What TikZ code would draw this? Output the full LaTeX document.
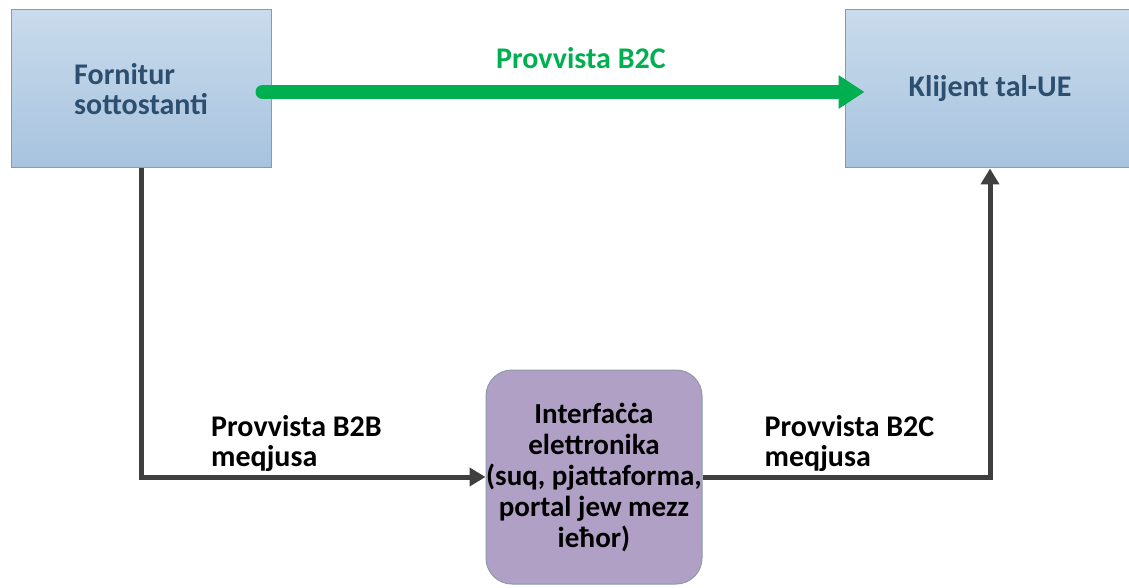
\documentclass[tikz,border=0pt]{standalone}
\usepackage{fontspec}
\setmainfont{Carlito}
\usetikzlibrary{arrows.meta,positioning}

\definecolor{boxtop}{HTML}{C9DBEC}
\definecolor{boxbot}{HTML}{A7C3DE}
\definecolor{boxline}{HTML}{8A9AAA}
\definecolor{boxtext}{HTML}{2C4F70}
\definecolor{supgreen}{HTML}{00B050}
\definecolor{midfill}{HTML}{B1A0C6}
\definecolor{linkgray}{HTML}{3F3F3F}

\tikzset{
    party/.style={draw=boxline, line width=1pt, top color=boxtop, bottom color=boxbot,
        minimum height=158pt, inner sep=0pt, text=boxtext, align=left,
        font=\fontsize{30}{30}\selectfont\bfseries},
    platform/.style={draw=boxline, line width=1pt, fill=midfill, rounded corners=26pt,
        minimum width=216pt, minimum height=214pt, inner sep=0pt, align=center,
        font=\fontsize{29}{31}\selectfont\bfseries},
    lbl/.style={align=left, inner sep=0pt, font=\fontsize{30}{30}\selectfont\bfseries},
    link/.style={draw=linkgray, line width=5pt, -{Triangle[length=16pt,width=18pt]}},
    bigarrow/.style={draw=supgreen, line width=14pt, line cap=round,
        -{Triangle[length=26pt,width=32pt]}}
}

\begin{document}
\begin{tikzpicture}[x=1pt, y=-1pt]
        \useasboundingbox (0,0) rectangle (1129,588);
        % Draw boxes
        \node[party, minimum width=260pt] (sup) at (141,89) {Fornitur\\sottostanti};
        \node[party, minimum width=290pt] (cli) at (990,89) {Klijent tal-UE};
        \node[platform] (mid) at (594,477) {Interfaċċa\\elettronika\\(suq, pjattaforma,\\portal jew mezz\\ieħor)};
        % Corner points of the links
        \coordinate (bl) at (sup.south |- mid.west);
        \coordinate (br) at (cli.south |- mid.east);
        % Draw direct supply
        \draw[bigarrow, shorten <=-9pt, shorten >=-20pt] ([yshift=-3pt]sup.east) -- ([yshift=-3pt]cli.west)
            node[pos=0.54, above=16pt, lbl, text=supgreen] (direct) {Provvista B2C};
        % Draw supplies through the interface
        \draw[link] (sup.south) -- (bl) -- (mid.west);
        \draw[link] (mid.east) -- (br) -- (cli.south);
        % Label the links
        \node[lbl, above right=5pt and 70pt of bl] (btob) {Provvista B2B\\meqjusa};
        \node[lbl, above right=5pt and 62pt of mid.east] (btoc) {Provvista B2C\\meqjusa};
    \end{tikzpicture}
\end{document}
